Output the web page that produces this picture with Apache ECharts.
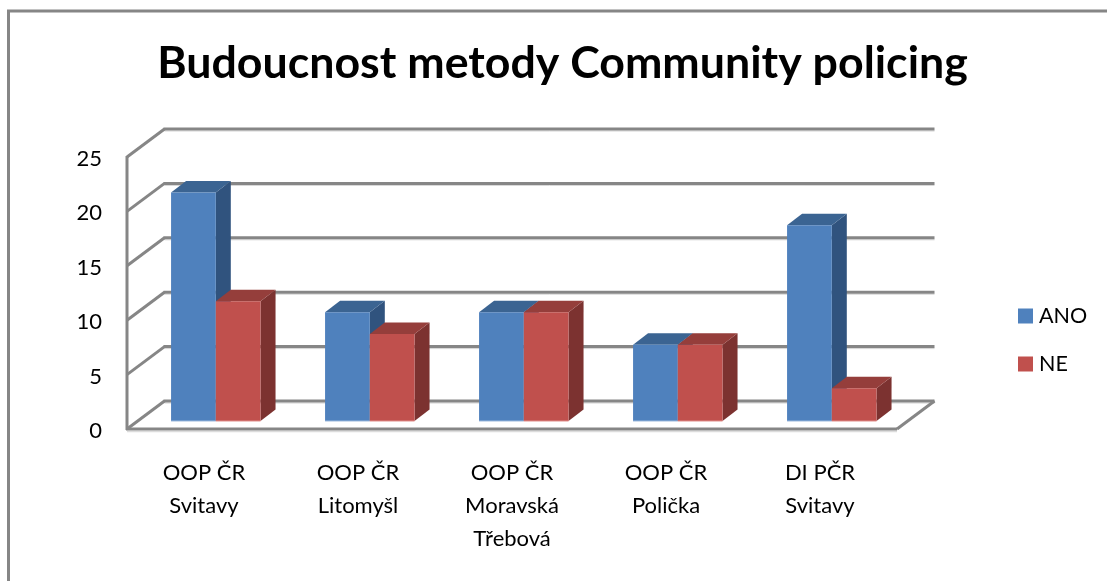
<!DOCTYPE html>
<html><head><meta charset="utf-8">
<style>html,body{margin:0;padding:0;background:#fff}#c{width:1107px;height:581px}</style>
<script src="https://cdn.jsdelivr.net/npm/echarts@6/dist/echarts.min.js"></script>
</head><body><div id="c"></div>
<script>
const titleText = 'Budoucnost metody Community policing';
const categories = ['OOP ČR\nSvitavy','OOP ČR\nLitomyšl','OOP ČR\nMoravská\nTřebová','OOP ČR\nPolička','DI PČR\nSvitavy'];
const ano = [21,10,10,7,18];
const ne = [11,8,10,7,3];
const yTicks = [0,5,10,15,20,25];

const FONT = 'Lato';
const WALL_DX = 37.5, WALL_DY = -28;
const BAR_DX = 15, BAR_DY = -11.5;
const BASE_DX = 11.8, BASE_DY = -8;
const BAR_W = 0.2905;
const LINE = '#868686', LINE_W = 3;

function poly(pts, fill, z){
  return {type:'polygon', shape:{points:pts}, style:{fill:fill, stroke:null}, z2:z||0};
}
function barItem(cols, seriesOffset){
  return function(params, api){
    const band = api.size([1,0])[0];
    const idx = api.value(0);
    const val = api.value(1);
    const c0 = api.coord([idx,0]);
    const c1 = api.coord([idx,val]);
    const w = band*BAR_W;
    const x0 = c0[0] + BASE_DX + (seriesOffset-1)*w;
    const x1 = x0 + w;
    const yb = c0[1] + BASE_DY;
    const yt = c1[1] + BASE_DY;
    return {type:'group', children:[
      poly([[x1,yt],[x1+BAR_DX,yt+BAR_DY],[x1+BAR_DX,yb+BAR_DY],[x1,yb]], cols.side),
      poly([[x0,yt],[x0+BAR_DX,yt+BAR_DY],[x1+BAR_DX,yt+BAR_DY],[x1,yt]], cols.top),
      poly([[x0,yt],[x1,yt],[x1,yb],[x0,yb]], cols.front),
      {type:'line', shape:{x1:x0,y1:yb,x2:x1,y2:yb}, style:{stroke:cols.edge,lineWidth:1}}
    ]};
  };
}
function wallItem(params, api){
  const v = api.value(0);
  const band = api.size([1,0])[0];
  const a = api.coord([0,v]);
  const b = api.coord([categories.length-1,v]);
  const xL = a[0]-band/2, xR = b[0]+band/2, y = a[1];
  const line = (x1,y1,x2,y2,c,w)=>({type:'line',shape:{x1,y1,x2,y2},style:{stroke:c,lineWidth:w}});
  const ch = [
    line(xL+WALL_DX,y+WALL_DY+2,xR+WALL_DX,y+WALL_DY+2,'#d4d4d4',1),
    line(xL,y,xL+WALL_DX,y+WALL_DY,LINE,LINE_W),
    line(xL+WALL_DX-1,y+WALL_DY,xR+WALL_DX,y+WALL_DY,LINE,LINE_W)
  ];
  if(v===0){
    ch.push(line(xL,y+2.5,xR,y+2.5,'#dcdcdc',1.5));
    ch.push(line(xL-1,y,xR,y,LINE,LINE_W));
    ch.push(line(xR,y,xR+WALL_DX,y+WALL_DY,LINE,LINE_W));
  }
  if(v===yTicks[yTicks.length-1]){
    const z = api.coord([0,0]);
    ch.push(line(xL,y-1,xL,z[1]+1,LINE,LINE_W));
  }
  return {type:'group',children:ch};
}
const blue = {front:'#4F81BD',top:'#3B6492',side:'#30537E',edge:'#9DB9DC'};
const red = {front:'#C0504D',top:'#953E3B',side:'#7C3230',edge:'#E08F8C'};

const chart = echarts.init(document.getElementById('c'),null,{renderer:'canvas'});
chart.setOption({
  animation:false,
  backgroundColor:'#fff',
  title:{text:titleText,left:557.5,top:36,textAlign:'center',
    textStyle:{fontFamily:FONT,fontSize:44.7,fontWeight:'bold',color:'#000'}},
  grid:{left:127,top:157,width:770,height:272,containLabel:false},
  legend:{orient:'vertical',left:1013,top:300,itemWidth:15,itemHeight:15,itemGap:26,icon:'rect',
    textStyle:{fontFamily:FONT,fontSize:21.5,color:'#000',padding:[0,0,0,1]},
    data:['ANO','NE']},
  xAxis:{type:'category',data:categories,
    axisLine:{show:false},axisTick:{show:false},splitLine:{show:false},
    axisLabel:{fontFamily:FONT,fontSize:22,color:'#000',lineHeight:33,margin:27.5,interval:0}},
  yAxis:{type:'value',min:0,max:25,interval:5,
    axisLine:{show:false},axisTick:{show:false},splitLine:{show:false},
    axisLabel:{fontFamily:FONT,fontSize:22,color:'#000',margin:25,verticalAlign:'top',lineHeight:4}},
  series:[
    {type:'custom',name:'walls',silent:true,clip:false,z:1,coordinateSystem:'cartesian2d',
      renderItem:wallItem,data:yTicks.map(v=>[v]),encode:{y:0}},
    {type:'custom',name:'ANO',clip:false,z:2,renderItem:barItem(blue,0),itemStyle:{color:blue.front},
      data:ano.map((v,i)=>[i,v]),encode:{x:0,y:1}},
    {type:'custom',name:'NE',clip:false,z:3,renderItem:barItem(red,1),itemStyle:{color:red.front},
      data:ne.map((v,i)=>[i,v]),encode:{x:0,y:1}}
  ],
  graphic:[{type:'polyline',silent:true,shape:{points:[[8.5,581],[8.5,11],[1107,11]]},
    style:{stroke:LINE,lineWidth:3,fill:null}}]
});
</script></body></html>
